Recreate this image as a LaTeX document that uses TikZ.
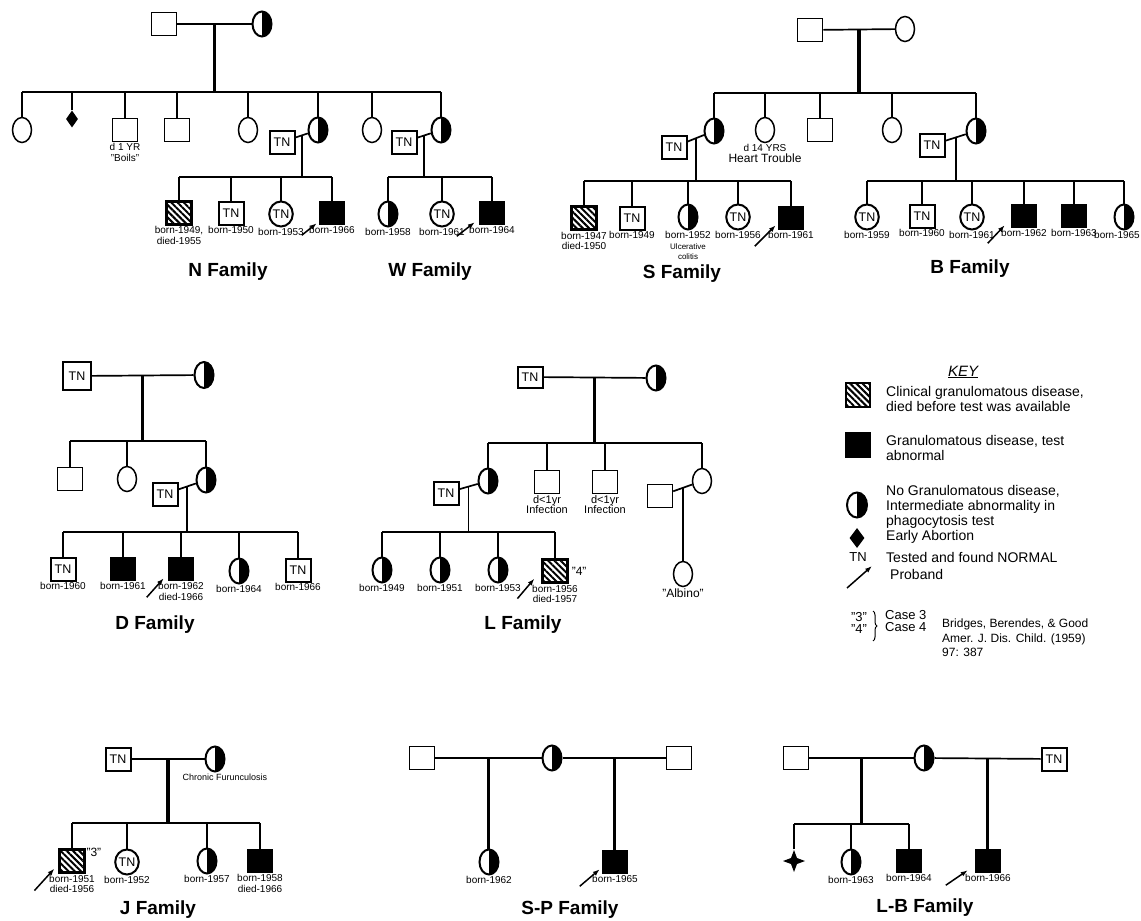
\documentclass[tikz,border=0pt]{standalone}
\usepackage{fontspec}
\setmainfont{Liberation Sans}
\usetikzlibrary{shapes.geometric,arrows.meta,patterns.meta,decorations.pathreplacing}
\newcommand{\smallnote}{\fontsize{8}{8.5}\selectfont}

\begin{document}
\begin{tikzpicture}[x=1pt, y=-1pt, label distance=1pt,
    male/.style={rectangle, draw, line width=1.5pt, minimum width=25pt, minimum height=23pt, inner sep=0pt},
    female/.style={ellipse, draw, line width=1.5pt, minimum width=19pt, minimum height=25pt, inner sep=0pt},
    tested/.style={line width=2pt, font=\fontsize{12.5}{12.5}\selectfont},
    carrier/.style={female, line width=2pt, path picture={\fill (path picture bounding box.north) rectangle (path picture bounding box.south east);}},
    affected/.style={male, fill=black},
    clinical/.style={male, line width=2.2pt, pattern={Lines[angle=-45,distance=4.4pt,line width=2pt]}},
    abortion/.style={diamond, fill=black, minimum width=12pt, minimum height=17pt, inner sep=0pt},
    bond/.style={line width=1.7pt},
    descent/.style={line width=3.2pt},
    proband/.style={-{Latex[length=7pt,width=5pt]}, line width=1.5pt},
    yr/.style={label={[yrtext]below:{#1}}},
    yrtext/.style={font=\fontsize{10}{10.5}\selectfont, inner sep=0pt, align=center},
    family/.style={font=\fontsize{19}{19}\selectfont\bfseries},
    keytext/.style={anchor=west, align=left, inner sep=0pt, font=\fontsize{14}{15}\selectfont}]

    \useasboundingbox (0,0) rectangle (1141,921);

    % N and W families
    \node[male] (nF) at (164,24) {};
    \node[carrier] (nM) at (262,24) {};
    \draw[bond] (nF) -- (nM) coordinate[midway] (nFM);
    \coordinate (nRow) at (0,92);
    \draw[descent] (nFM) -- (nFM |- nRow);
    \node[female] (n1) at (22,130) {};
    \node[abortion] (n2) at (72,119) {};
    \node[male, yr={d 1 YR\\"Boils"}] (n3) at (125,130) {};
    \node[male] (n4) at (177,130) {};
    \node[female] (n5) at (248,130) {};
    \node[carrier] (n6) at (318,130) {};
    \node[female] (n7) at (372,130) {};
    \node[carrier] (w1) at (441,130) {};
    \draw[bond] (n1 |- nRow) -- (w1 |- nRow);
    \draw[bond] (n1) -- (n1 |- nRow);
    \draw[bond] (n2) -- (n2 |- nRow);
    \draw[bond] (n3) -- (n3 |- nRow);
    \draw[bond] (n4) -- (n4 |- nRow);
    \draw[bond] (n5) -- (n5 |- nRow);
    \draw[bond] (n6) -- (n6 |- nRow);
    \draw[bond] (n7) -- (n7 |- nRow);
    \draw[bond] (w1) -- (w1 |- nRow);

    \node[male, tested] (nS) at (282,142) {TN};
    \draw[bond] (nS) -- (n6) coordinate[midway] (nSM);
    \coordinate (nRow2) at (0,177);
    \draw[bond] (nSM) -- (nSM |- nRow2);
    \node[clinical, yr={born-1949,\\died-1955}] (na) at (179,213) {};
    \node[male, tested, yr={born-1950}] (nb) at (231,213) {TN};
    \node[female, tested, yr={born-1953}] (nc) at (281,214) {TN};
    \node[affected, yr={born-1966}] (nd) at (332,213) {};
    \draw[bond] (na |- nRow2) -- (nd |- nRow2);
    \draw[bond] (na) -- (na |- nRow2);
    \draw[bond] (nb) -- (nb |- nRow2);
    \draw[bond] (nc) -- (nc |- nRow2);
    \draw[bond] (nd) -- (nd |- nRow2);
    \draw[proband] ([shift={(-17,10)}]nd.south west) -- ([shift={(-2,-2)}]nd.south west);
    \node[family] (nTitle) at (228,272) {N Family};

    \node[male, tested] (wS) at (404,142) {TN};
    \draw[bond] (wS) -- (w1) coordinate[midway] (wSM);
    \draw[bond] (wSM) -- (wSM |- nRow2);
    \node[carrier, yr={born-1958}] (wa) at (388,214) {};
    \node[female, tested, yr={born-1961}] (wb) at (442,214) {TN};
    \node[affected, yr={born-1964}] (wc) at (492,213) {};
    \draw[bond] (wa |- nRow2) -- (wc |- nRow2);
    \draw[bond] (wa) -- (wa |- nRow2);
    \draw[bond] (wb) -- (wb |- nRow2);
    \draw[bond] (wc) -- (wc |- nRow2);
    \draw[proband] ([shift={(-22,11)}]wc.south west) -- ([shift={(-4,-3)}]wc.south west);
    \node[family] (wTitle) at (430,272) {W Family};

    % S and B families
    \node[male] (sF) at (810,30) {};
    \node[female] (sM) at (905,29) {};
    \draw[bond] (sF) -- (sM) coordinate[midway] (sFM);
    \coordinate (sRow) at (0,93);
    \draw[descent] (sFM) -- (sFM |- sRow);
    \node[carrier] (s1) at (714,131) {};
    \node[female, yr={d 14 YRS\\\fontsize{12}{12}\selectfont Heart Trouble}] (s2) at (765,130) {};
    \node[male] (s3) at (820,130) {};
    \node[female] (s4) at (892,130) {};
    \node[carrier] (b1) at (976,131) {};
    \draw[bond] (s1 |- sRow) -- (b1 |- sRow);
    \draw[bond] (s1) -- (s1 |- sRow);
    \draw[bond] (s2) -- (s2 |- sRow);
    \draw[bond] (s3) -- (s3 |- sRow);
    \draw[bond] (s4) -- (s4 |- sRow);
    \draw[bond] (b1) -- (b1 |- sRow);

    \node[male, tested] (sS) at (674,147) {TN};
    \draw[bond] (sS) -- (s1) coordinate[midway] (sSM);
    \coordinate (sRow2) at (0,181);
    \draw[bond] (sSM) -- (sSM |- sRow2);
    \node[clinical, yr={born-1947\\died-1950}] (sa) at (584,218) {};
    \node[male, tested, yr={born-1949}] (sb) at (632,218) {TN};
    \node[carrier, yr={born-1952\\\smallnote Ulcerative\\\smallnote colitis}] (sc) at (688,217) {};
    \node[female, tested, yr={born-1956}] (sd) at (738,217) {TN};
    \node[affected, yr={born-1961}] (se) at (791,218) {};
    \draw[bond] (sa |- sRow2) -- (se |- sRow2);
    \draw[bond] (sa) -- (sa |- sRow2);
    \draw[bond] (sb) -- (sb |- sRow2);
    \draw[bond] (sc) -- (sc |- sRow2);
    \draw[bond] (sd) -- (sd |- sRow2);
    \draw[bond] (se) -- (se |- sRow2);
    \draw[proband] ([shift={(-23,16)}]se.south west) -- ([shift={(-2,-5)}]se.south west);
    \node[family] (sTitle) at (682,274) {S Family};

    \node[male, tested] (bS) at (932,145) {TN};
    \draw[bond] (bS) -- (b1) coordinate[midway] (bSM);
    \draw[bond] (bSM) -- (bSM |- sRow2);
    \node[female, tested, yr={born-1959}] (ba) at (867,217) {TN};
    \node[male, tested, yr={born-1960}] (bb) at (922,216) {TN};
    \node[female, tested, yr={born-1961}] (bc) at (972,217) {TN};
    \node[affected, yr={born-1962}] (bd) at (1024,216) {};
    \node[affected, yr={born-1963}] (be) at (1074,216) {};
    \node[carrier, label={[yrtext, xshift=-7pt]below:born-1965}] (bf) at (1124,217) {};
    \draw[bond] (ba |- sRow2) -- (bf |- sRow2);
    \draw[bond] (ba) -- (ba |- sRow2);
    \draw[bond] (bb) -- (bb |- sRow2);
    \draw[bond] (bc) -- (bc |- sRow2);
    \draw[bond] (bd) -- (bd |- sRow2);
    \draw[bond] (be) -- (be |- sRow2);
    \draw[bond] (bf) -- (bf |- sRow2);
    \draw[proband] ([shift={(-23,15)}]bd.south west) -- ([shift={(-6,-3)}]bd.south west);
    \node[family] (bTitle) at (970,269) {B Family};

    % D family
    \node[male, tested, minimum width=28pt, minimum height=28pt] (dF) at (77,376) {TN};
    \node[carrier, minimum height=26pt] (dM) at (204,375) {};
    \draw[bond] (dF) -- (dM) coordinate[midway] (dFM);
    \coordinate (dRow) at (0,441);
    \draw[descent] (dFM) -- (dFM |- dRow);
    \node[male] (d1) at (70,479) {};
    \node[female] (d2) at (127,479) {};
    \node[carrier] (d3) at (206,480) {};
    \draw[bond] (d1 |- dRow) -- (d3 |- dRow);
    \draw[bond] (d1) -- (d1 |- dRow);
    \draw[bond] (d2) -- (d2 |- dRow);
    \draw[bond] (d3) -- (d3 |- dRow);
    \node[male, tested] (dS) at (165,494) {TN};
    \draw[bond] (dS) -- (d3) coordinate[midway] (dSM);
    \coordinate (dRow2) at (0,532);
    \draw[bond] (dSM) -- (dSM |- dRow2);
    \node[male, tested, yr={born-1960}] (da) at (63,569) {TN};
    \node[affected, yr={born-1961}] (db) at (123,569) {};
    \node[affected, yr={born-1962\\died-1966}] (dc) at (181,569) {};
    \node[carrier, yr={born-1964}] (dd) at (239,571) {};
    \node[male, tested, yr={born-1966}] (de) at (298,570) {TN};
    \draw[bond] (da |- dRow2) -- (de |- dRow2);
    \draw[bond] (da) -- (da |- dRow2);
    \draw[bond] (db) -- (db |- dRow2);
    \draw[bond] (dc) -- (dc |- dRow2);
    \draw[bond] (dd) -- (dd |- dRow2);
    \draw[bond] (de) -- (de |- dRow2);
    \draw[proband] ([shift={(-21,16)}]dc.south west) -- ([shift={(-4,-3)}]dc.south west);
    \node[family] (dTitle) at (155,625) {D Family};

    % L family
    \node[male, tested, minimum height=21pt] (lF) at (530,377) {TN};
    \node[carrier] (lM) at (656,378) {};
    \draw[bond] (lF) -- (lM) coordinate[midway] (lFM);
    \coordinate (lRow) at (0,443);
    \draw[descent] (lFM) -- (lFM |- lRow);
    \node[carrier] (l1) at (488,481) {};
    \node[male, yr={\fontsize{11}{12}\selectfont d<1yr\\\fontsize{11}{12}\selectfont Infection}] (l2) at (547,482) {};
    \node[male, yr={\fontsize{11}{12}\selectfont d<1yr\\\fontsize{11}{12}\selectfont Infection}] (l3) at (605,482) {};
    \node[female] (l4) at (702,481) {};
    \draw[bond] (l1 |- lRow) -- (l4 |- lRow);
    \draw[bond] (l1) -- (l1 |- lRow);
    \draw[bond] (l2) -- (l2 |- lRow);
    \draw[bond] (l3) -- (l3 |- lRow);
    \draw[bond] (l4) -- (l4 |- lRow);
    \node[male, tested] (lS) at (446,493) {TN};
    \draw[bond] (lS) -- (l1) coordinate[midway] (lSM);
    \coordinate (lRow2) at (0,532);
    \draw[bond] (lSM) -- (lSM |- lRow2);
    \node[carrier, yr={born-1949}] (la) at (382,570) {};
    \node[carrier, yr={born-1951}] (lb) at (440,570) {};
    \node[carrier, yr={born-1953}] (lc) at (498,570) {};
    \node[clinical, yr={born-1956\\died-1957}, label={[font=\fontsize{12}{12}\selectfont, inner sep=0pt, label distance=3pt]right:"4"}] (ld) at (555,571) {};
    \draw[bond] (la |- lRow2) -- (ld |- lRow2);
    \draw[bond] (la) -- (la |- lRow2);
    \draw[bond] (lb) -- (lb |- lRow2);
    \draw[bond] (lc) -- (lc |- lRow2);
    \draw[bond] (ld) -- (ld |- lRow2);
    \draw[proband] ([shift={(-24,15)}]ld.south west) -- ([shift={(-7,-5)}]ld.south west);
    \node[male] (lA) at (660,496) {};
    \draw[bond] (lA) -- (l4) coordinate[midway] (lAM);
    \node[female, yr={\fontsize{12}{12}\selectfont"Albino"}] (l5) at (683,574) {};
    \draw[bond] (lAM) -- (lAM |- l5.north);
    \node[family] (lTitle) at (523,625) {L Family};

    % key
    \node[font=\fontsize{15}{15}\selectfont\itshape] (kTitle) at (963,372) {\underline{KEY}};
    \node[clinical, minimum width=24pt, minimum height=24pt] (k1) at (858,395) {};
    \node[keytext] (k1t) at (886,399) {Clinical granulomatous disease,\\died before test was available};
    \node[affected, minimum width=24pt, minimum height=24pt] (k2) at (858,445) {};
    \node[keytext] (k2t) at (886,448) {Granulomatous disease, test\\abnormal};
    \node[carrier, minimum width=20pt] (k3) at (857,505) {};
    \node[keytext] (k3t) at (886,507) {No Granulomatous disease,\\Intermediate abnormality in\\phagocytosis test};
    \node[abortion, minimum width=15pt, minimum height=20pt] (k4) at (857,538) {};
    \node[keytext] (k4t) at (886,537) {Early Abortion};
    \node[font=\fontsize{13}{13}\selectfont] (k5) at (858,557) {TN};
    \node[keytext] (k5t) at (886,557) {Tested and found NORMAL};
    \coordinate (k6a) at (847,588);
    \coordinate (k6b) at (872,566);
    \draw[proband] (k6a) -- (k6b);
    \node[keytext] (k6t) at (890,574) {Proband};
    \node[font=\fontsize{13}{13}\selectfont] (k7) at (859,617) {"3"};
    \node[font=\fontsize{13}{13}\selectfont] (k8) at (859,629) {"4"};
    \coordinate (kB1) at (873,611);
    \coordinate (kB2) at (873,641);
    \draw[line width=1pt, decorate, decoration={brace, amplitude=4pt}] (kB1) -- (kB2);
    \node[keytext, font=\fontsize{13}{12.5}\selectfont] (k7t) at (885,621) {Case 3\\Case 4};
    \node[keytext, font=\fontsize{12}{14.5}\selectfont] (kRef) at (942,638) {Bridges, Berendes, \& Good\\Amer. J. Dis. Child. (1959)\\97: 387};

    % J family
    \node[male, tested] (jF) at (118,759) {TN};
    \node[carrier, label={[yrtext, font=\fontsize{9}{9}\selectfont, xshift=10pt]below:Chronic Furunculosis}] (jM) at (215,759) {};
    \draw[bond] (jF) -- (jM) coordinate[midway] (jFM);
    \coordinate (jRow) at (0,823);
    \draw[descent] (jFM) -- (jFM |- jRow);
    \node[clinical, yr={born-1951\\died-1956}, label={[font=\fontsize{12}{12}\selectfont, inner sep=0pt, anchor=north west]north east:"3"}] (ja) at (72,861) {};
    \node[female, tested, yr={born-1952}] (jb) at (127,862) {TN};
    \node[carrier, yr={born-1957}] (jc) at (207,861) {};
    \node[affected, yr={born-1958\\died-1966}] (jd) at (260,861) {};
    \draw[bond] (ja |- jRow) -- (jd |- jRow);
    \draw[bond] (ja) -- (ja |- jRow);
    \draw[bond] (jb) -- (jb |- jRow);
    \draw[bond] (jc) -- (jc |- jRow);
    \draw[bond] (jd) -- (jd |- jRow);
    \draw[proband] ([shift={(-24,17)}]ja.south west) -- ([shift={(-4,-5)}]ja.south west);
    \node[family] (jTitle) at (158,910) {J Family};

    % S-P family
    \node[male] (pL) at (422,758) {};
    \node[carrier] (pM) at (552,758) {};
    \node[male] (pR) at (679,758) {};
    \draw[bond] (pL) -- (pM) coordinate[midway] (pLM);
    \draw[bond] (pM) -- (pR) coordinate[midway] (pRM);
    \node[carrier, yr={born-1962}] (pa) at (489,862) {};
    \node[affected, yr={born-1965}] (pb) at (615,862) {};
    \draw[descent] (pLM) -- (pLM |- pa.north);
    \draw[descent] (pRM) -- (pRM |- pb.north);
    \draw[proband] ([shift={(-22,12)}]pb.south west) -- ([shift={(-2,-5)}]pb.south west);
    \node[family] (pTitle) at (570,910) {S-P Family};

    % L-B family
    \node[male] (gL) at (796,758) {};
    \node[carrier] (gM) at (924,758) {};
    \node[male, tested] (gR) at (1054,759) {TN};
    \draw[bond] (gL) -- (gM) coordinate[midway] (gLM);
    \draw[bond] (gM) -- (gR) coordinate[midway] (gRM);
    \coordinate (gRow) at (0,824);
    \draw[descent] (gLM) -- (gLM |- gRow);
    \node[star, star points=4, star point ratio=2.6, fill=black, inner sep=0pt, minimum size=22pt] (g1) at (794,861) {};
    \node[carrier, yr={born-1963}] (g2) at (851,862) {};
    \node[affected, yr={born-1964}] (g3) at (909,861) {};
    \draw[bond] (g1 |- gRow) -- (g3 |- gRow);
    \draw[bond] (g1) -- (g1 |- gRow);
    \draw[bond] (g2) -- (g2 |- gRow);
    \draw[bond] (g3) -- (g3 |- gRow);
    \node[affected, yr={born-1966}] (g4) at (988,861) {};
    \draw[descent] (gRM) -- (gRM |- g4.north);
    \draw[proband] ([shift={(-29,12)}]g4.south west) -- ([shift={(-7,-3)}]g4.south west);
    \node[family] (gTitle) at (925,908) {L-B Family};
\end{tikzpicture}
\end{document}
